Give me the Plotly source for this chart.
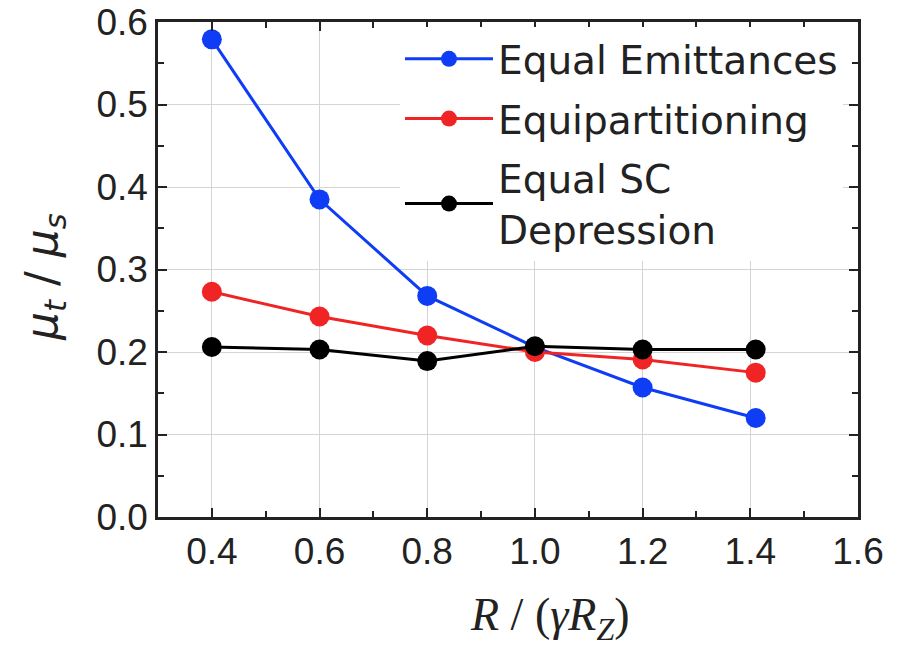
import plotly.graph_objects as go

x_vals = [0.4, 0.6, 0.8, 1.0, 1.2, 1.41]
equal_emittances = [0.579, 0.385, 0.268, 0.206, 0.157, 0.120]
equipartitioning = [0.273, 0.243, 0.220, 0.200, 0.191, 0.175]
equal_sc_depression = [0.206, 0.203, 0.189, 0.207, 0.203, 0.203]

series_names = ["Equal Emittances", "Equipartitioning", "Equal SC<br>Depression"]
series_colors = ["#0f3cf5", "#f02424", "#000000"]
series_values = [equal_emittances, equipartitioning, equal_sc_depression]

x_ticks = [0.4, 0.6, 0.8, 1.0, 1.2, 1.4, 1.6]
y_ticks = [0.0, 0.1, 0.2, 0.3, 0.4, 0.5, 0.6]

fig = go.Figure()
for i, (name, col, vals) in enumerate(zip(series_names, series_colors, series_values)):
    fig.add_trace(go.Scatter(
        x=x_vals, y=vals, name=name, mode="lines+markers",
        line=dict(color=col, width=3),
        marker=dict(color=col, size=20),
        legendgroup=f"g{i}",
    ))

axis_common = dict(
    showline=True, linecolor="#222222", linewidth=2.5, mirror="ticks",
    ticks="inside", ticklen=9, tickwidth=2, tickcolor="#222222",
    showgrid=True, gridcolor="#d4d4d4", gridwidth=1.2,
    zeroline=False, automargin=False, ticklabeloverflow="allow",
    tickfont=dict(family="Liberation Sans, Arial, sans-serif", size=37, color="#222222"),
)

fig.update_xaxes(
    range=[0.3, 1.6], tickvals=x_ticks, ticktext=[f"{v:.1f}" for v in x_ticks],
    minor=dict(ticks="inside", ticklen=6, tickwidth=2, tickcolor="#222222", dtick=0.1, showgrid=False),
    **axis_common,
)
fig.update_yaxes(
    range=[0, 0.6], tickvals=y_ticks, ticktext=[f"{v:.1f}" for v in y_ticks],
    minor=dict(ticks="inside", ticklen=6, tickwidth=2, tickcolor="#222222", dtick=0.05, showgrid=False),
    **axis_common,
)

# page body has an 8px margin; plot area in page pixels: x 158..858, y 22..517
fig.add_annotation(
    text="<i>R</i> / (<i>γR</i><sub><i>Z</i></sub>)",
    xref="paper", yref="paper", x=(550 - 158) / 700, y=-(618 - 517) / 495,
    xanchor="center", yanchor="middle", showarrow=False,
    font=dict(family="Liberation Serif, Times New Roman, serif", size=46, color="#222222"),
)
fig.add_annotation(
    text="<i>μ</i><sub><i>t</i></sub> / <i>μ</i><sub><i>s</i></sub>",
    xref="paper", yref="paper", x=-(158 - 44) / 700, y=(517 - 277) / 495,
    xanchor="center", yanchor="middle", showarrow=False, textangle=-90,
    font=dict(family="DejaVu Sans, sans-serif", size=44, color="#222222"),
)

fig.update_layout(
    width=889, height=639,
    margin=dict(l=150, r=39, t=14, b=130),
    paper_bgcolor="white", plot_bgcolor="white",
    showlegend=True,
    legend=dict(
        x=(400 - 158) / 700, y=(517 - 27) / 495, xanchor="left", yanchor="top",
        bgcolor="white", borderwidth=0,
        font=dict(family="DejaVu Sans, sans-serif", size=39, color="#222222"),
        itemwidth=88, traceorder="grouped", tracegroupgap=6,
    ),
)

fig.write_html("out.html")
